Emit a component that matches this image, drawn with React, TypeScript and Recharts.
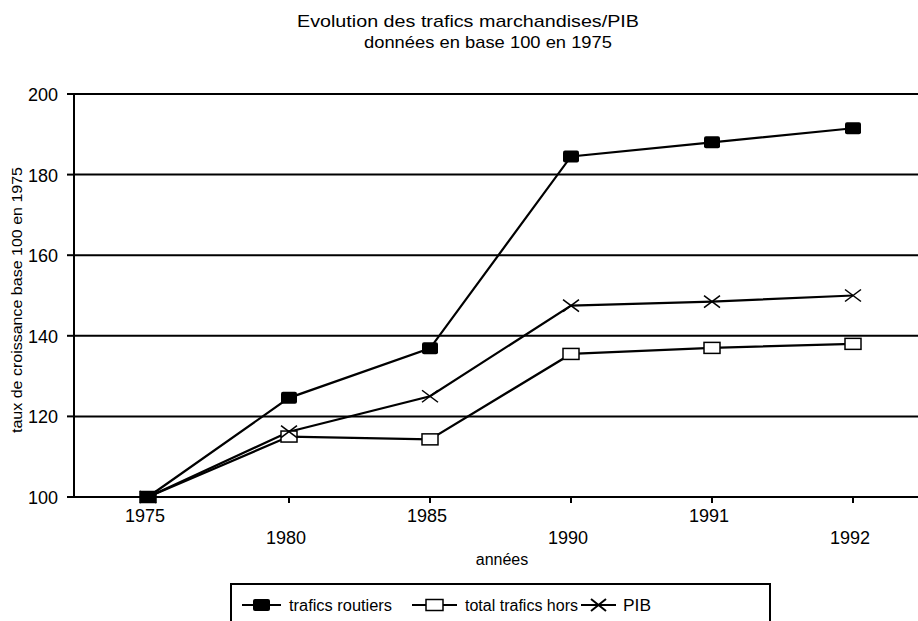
import React from 'react';
import { LineChart, Line, XAxis, YAxis, CartesianGrid, Label } from 'recharts';

const years = ['1975', '1980', '1985', '1990', '1991', '1992'];
const routiers = [100, 124.6, 136.9, 184.5, 188, 191.5];
const totalHors = [100, 115, 114.3, 135.5, 137, 138];
const pib = [100, 116.2, 125, 147.5, 148.5, 150];
const yTicks = [100, 120, 140, 160, 180, 200];
const seriesNames = ['trafics routiers', 'total trafics hors', 'PIB'];
const titleLines = ['Evolution des trafics marchandises/PIB', 'données en base 100 en 1975'];
const xTitle = 'années';
const yTitle = 'taux de croissance base 100 en 1975';

const data = years.map((y, i) => ({ year: y, routiers: routiers[i], total: totalHors[i], pib: pib[i] }));

const FONT = '"Liberation Sans", Arial, sans-serif';

const FilledSquare = (p: any) => {
  const { cx, cy } = p;
  if (cx == null || cy == null) return null;
  return <rect x={cx - 8} y={cy - 6} width={16} height={12} rx={2} fill="#000" />;
};
const HollowSquare = (p: any) => {
  const { cx, cy } = p;
  if (cx == null || cy == null) return null;
  return <rect x={cx - 8} y={cy - 5.5} width={16} height={11} fill="#fff" stroke="#000" strokeWidth={1.5} />;
};
const Cross = (p: any) => {
  const { cx, cy } = p;
  if (cx == null || cy == null) return null;
  return (
    <g stroke="#000" strokeWidth={1.5}>
      <line x1={cx - 8} y1={cy - 6} x2={cx + 8} y2={cy + 6} />
      <line x1={cx - 8} y1={cy + 6} x2={cx + 8} y2={cy - 6} />
    </g>
  );
};

const XTick = (p: any) => {
  const { x, y, payload, index } = p;
  const dy = index % 2 === 0 ? 19 : 41;
  return (
    <text x={x - 3} y={y + dy} textAnchor="middle" fontFamily={FONT} fontSize={18} fill="#000">
      {payload.value}
    </text>
  );
};

const YTick = (p: any) => {
  const { x, y, payload } = p;
  return (
    <text x={x} y={y + 7} textAnchor="end" fontFamily={FONT} fontSize={18} fill="#000">
      {payload.value}
    </text>
  );
};

export default function App() {
  return (
    <div style={{ position: 'absolute', left: 0, top: 0, width: 918, height: 621, overflow: 'hidden', background: '#fff' }}>
      <LineChart width={918} height={621} data={data} margin={{ top: 94, right: 0, bottom: 0, left: 0 }}>
        <text x={297} y={27} fontFamily={FONT} fontSize={17} fill="#000" textLength={342} lengthAdjust="spacingAndGlyphs">
          {titleLines[0]}
        </text>
        <text x={364} y={48} fontFamily={FONT} fontSize={17} fill="#000" textLength={248} lengthAdjust="spacingAndGlyphs">
          {titleLines[1]}
        </text>
        <CartesianGrid vertical={false} stroke="#000" strokeWidth={2} />
        <XAxis
          dataKey="year"
          type="category"
          padding={{ left: 74, right: 65 }}
          axisLine={{ stroke: '#000', strokeWidth: 2 }}
          tickLine={{ stroke: '#000', strokeWidth: 2 }}
          tickSize={6}
          tickMargin={0}
          tick={<XTick />}
          interval={0}
          height={124}
        >
          <Label
            content={(props: any) => {
              const vb = props.viewBox || {};
              return (
                <text x={502} y={(vb.y || 497) + 68} textAnchor="middle" fontFamily={FONT} fontSize={16} fill="#000">
                  {xTitle}
                </text>
              );
            }}
          />
        </XAxis>
        <YAxis
          type="number"
          domain={[100, 200]}
          ticks={yTicks}
          width={74}
          axisLine={{ stroke: '#000', strokeWidth: 2 }}
          tickLine={{ stroke: '#000', strokeWidth: 2 }}
          tickSize={7}
          tickMargin={9}
          tick={<YTick />}
          interval={0}
        >
          <Label
            content={() => (
              <text
                x={22}
                y={300}
                transform="rotate(-90 22 300)"
                textAnchor="middle"
                fontFamily={FONT}
                fontSize={15}
                fill="#000"
                textLength={266}
                lengthAdjust="spacingAndGlyphs"
              >
                {yTitle}
              </text>
            )}
          />
        </YAxis>
        <Line dataKey="total" name={seriesNames[1]} stroke="#000" strokeWidth={2.2} dot={<HollowSquare />} isAnimationActive={false} />
        <Line dataKey="pib" name={seriesNames[2]} stroke="#000" strokeWidth={2.2} dot={<Cross />} isAnimationActive={false} />
        <Line dataKey="routiers" name={seriesNames[0]} stroke="#000" strokeWidth={2.2} dot={<FilledSquare />} isAnimationActive={false} />
      </LineChart>
      <svg
        width={918}
        height={61}
        style={{ position: 'absolute', left: 0, top: 560, pointerEvents: 'none' }}
      >
        <rect x={231} y={24} width={539} height={60} fill="#fff" stroke="#000" strokeWidth={2} />
        <g stroke="#000" strokeWidth={2.2}>
          <line x1={242} y1={45} x2={281} y2={45} />
          <line x1={412} y1={45} x2={457} y2={45} />
          <line x1={581} y1={45} x2={616} y2={45} />
        </g>
        <rect x={253} y={39} width={17} height={12} rx={2} fill="#000" />
        <rect x={426} y={39.5} width={17} height={11} fill="#fff" stroke="#000" strokeWidth={1.5} />
        <g stroke="#000" strokeWidth={2}>
          <line x1={591} y1={39} x2={606} y2={51} />
          <line x1={591} y1={51} x2={606} y2={39} />
        </g>
        <text x={289} y={50.5} fontFamily={FONT} fontSize={16} fill="#000" textLength={103} lengthAdjust="spacingAndGlyphs">
          {seriesNames[0]}
        </text>
        <text x={465} y={50.5} fontFamily={FONT} fontSize={16} fill="#000" textLength={113} lengthAdjust="spacingAndGlyphs">
          {seriesNames[1]}
        </text>
        <text x={623} y={50.5} fontFamily={FONT} fontSize={16} fill="#000" textLength={28} lengthAdjust="spacingAndGlyphs">
          {seriesNames[2]}
        </text>
      </svg>
    </div>
  );
}
